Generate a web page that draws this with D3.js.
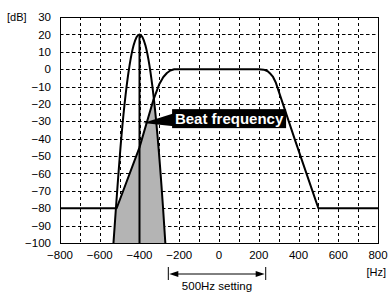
<!DOCTYPE html>
<html>
<head>
<meta charset="utf-8">
<script src="https://cdn.jsdelivr.net/npm/d3@7"></script>
<style>
  body { margin: 0; background: #fff; }
  svg { display: block; font-family: "Liberation Sans", Arial, Helvetica, sans-serif; }
</style>
</head>
<body>
<svg width="388" height="293"></svg>
<script>
// axis ticks
var xTicks = [-800, -600, -400, -200, 0, 200, 400, 600, 800];
var yTicks = [30, 20, 10, 0, -10, -20, -30, -40, -50, -60, -70, -80, -90, -100];
var xGrid = d3.range(-700, 800, 100);

// filter passband response [Hz, dB]
var passband = [
  [-800, -80], [-515, -80], [-400, -45], [-331, -18], [-300, -8.5], [-280, -4.5],
  [-262, -2.2], [-245, -0.8], [-225, -0.1], [-205, 0], [200, 0], [225, -0.3],
  [245, -1.2], [260, -2.8], [272, -4.5], [285, -7.5], [383, -41], [473, -71],
  [500, -80], [800, -80]
];

// narrow signal peak [Hz, dB]
var peak = [
  [-531, -100], [-518, -79], [-490, -37.5], [-470, -14.8], [-450, 2.2], [-430, 13.6],
  [-415, 18.4], [-400, 20], [-385, 18.4], [-370, 13.6], [-350, 2.2], [-330, -14.8],
  [-310, -37.5], [-282, -79], [-270, -100]
];

var peakCenter = -400, peakTop = 20;
var setting = [-255, 235];   // 500Hz setting span

var margin = { top: 17, right: 10, bottom: 50, left: 60 },
  width = 318,
  height = 226;

var svg = d3.select("svg");
var g = svg.append("g").attr("transform", "translate(" + margin.left + "," + margin.top + ")");

var x = d3.scaleLinear().domain([-800, 800]).range([0, width]);
var y = d3.scaleLinear().domain([-100, 30]).range([height, 0]);

function fmt(d) { return d < 0 ? "\u2212" + Math.abs(d) : String(d); }

// grid
g.selectAll(".hg")
  .data(yTicks.filter((d) => d > -100 && d < 30))
  .join("line")
  .attr("x1", 0).attr("x2", width)
  .attr("y1", (d) => Math.round(y(d)) + 0.5).attr("y2", (d) => Math.round(y(d)) + 0.5)
  .attr("stroke", "#000").attr("stroke-width", 1).attr("stroke-dasharray", "3.5,2.5");

g.selectAll(".vg")
  .data(xGrid)
  .join("line")
  .attr("y1", 0).attr("y2", height)
  .attr("x1", (d) => Math.round(x(d)) + 0.5).attr("x2", (d) => Math.round(x(d)) + 0.5)
  .attr("stroke", "#000").attr("stroke-width", 1).attr("stroke-dasharray", "3,3");

// shaded overlap: area under the peak clipped to area under the passband
var areaPass = d3.area().x((d) => x(d[0])).y0(y(-100)).y1((d) => y(d[1]));
var areaPeak = d3.area().x((d) => x(d[0])).y0(y(-100)).y1((d) => y(d[1])).curve(d3.curveMonotoneX);

svg.append("defs").append("clipPath").attr("id", "passclip")
  .append("path").attr("d", areaPass(passband));

g.append("path")
  .attr("d", areaPeak(peak))
  .attr("fill", "#b4b4b4")
  .attr("clip-path", "url(#passclip)");

// curves
var linePass = d3.line().x((d) => x(d[0])).y((d) => y(d[1]));
var linePeak = d3.line().x((d) => x(d[0])).y((d) => y(d[1])).curve(d3.curveMonotoneX);

g.append("path").attr("d", linePass(passband))
  .attr("fill", "none").attr("stroke", "#000").attr("stroke-width", 2).attr("stroke-linejoin", "round");
g.append("path").attr("d", linePeak(peak))
  .attr("fill", "none").attr("stroke", "#000").attr("stroke-width", 2);

g.append("line")
  .attr("x1", x(peakCenter)).attr("x2", x(peakCenter))
  .attr("y1", y(-100)).attr("y2", y(peakTop))
  .attr("stroke", "#000").attr("stroke-width", 2);

// frame
g.append("rect")
  .attr("x", 0.5).attr("y", 0.5).attr("width", width).attr("height", height)
  .attr("fill", "none").attr("stroke", "#000").attr("stroke-width", 1);

// tick labels
g.selectAll(".yl")
  .data(yTicks)
  .join("text")
  .attr("x", -9).attr("y", (d) => y(d)).attr("dy", "0.36em")
  .attr("text-anchor", "end").attr("font-size", 11.5)
  .text(fmt);

g.selectAll(".xl")
  .data(xTicks)
  .join("text")
  .attr("x", (d) => x(d)).attr("y", height + 16)
  .attr("text-anchor", "middle").attr("font-size", 11.5)
  .text(fmt);

svg.append("text").attr("x", 7).attr("y", 21).attr("font-size", 11).text("[dB]");
svg.append("text").attr("x", 386).attr("y", 276).attr("text-anchor", "end").attr("font-size", 11).text("[Hz]");

// beat frequency callout
var bx = x(-236), by = y(-23);
g.append("path")
  .attr("d", "M" + (x(-382)) + "," + (y(-31)) + "L" + (bx + 2) + "," + (by + 4) + "L" + (bx + 2) + "," + (by + 17) + "Z")
  .attr("fill", "#000");
g.append("rect")
  .attr("x", bx).attr("y", by).attr("width", 114).attr("height", 19)
  .attr("fill", "#000");
g.append("text")
  .attr("x", bx + 57).attr("y", by + 15)
  .attr("text-anchor", "middle").attr("font-size", 15).attr("font-weight", "bold")
  .attr("fill", "#fff")
  .text("Beat frequency");

// 500Hz setting span
var sy = height + 31;
g.selectAll(".sb")
  .data(setting)
  .join("line")
  .attr("x1", (d) => x(d)).attr("x2", (d) => x(d))
  .attr("y1", sy - 7).attr("y2", sy + 6)
  .attr("stroke", "#000").attr("stroke-width", 1);
g.append("line")
  .attr("x1", x(setting[0]) + 6).attr("x2", x(setting[1]) - 6)
  .attr("y1", sy).attr("y2", sy)
  .attr("stroke", "#000").attr("stroke-width", 1);
g.selectAll(".ah")
  .data(setting)
  .join("path")
  .attr("d", (d, i) => {
    var px = x(d) + (i === 0 ? 1 : -1), dir = i === 0 ? 1 : -1;
    return "M" + px + "," + sy + "L" + (px + dir * 9) + "," + (sy - 3) + "L" + (px + dir * 9) + "," + (sy + 3) + "Z";
  })
  .attr("fill", "#000");
g.append("text")
  .attr("x", (x(setting[0]) + x(setting[1])) / 2).attr("y", sy + 16)
  .attr("text-anchor", "middle").attr("font-size", 11.5)
  .text("500Hz setting");
</script>
</body>
</html>
